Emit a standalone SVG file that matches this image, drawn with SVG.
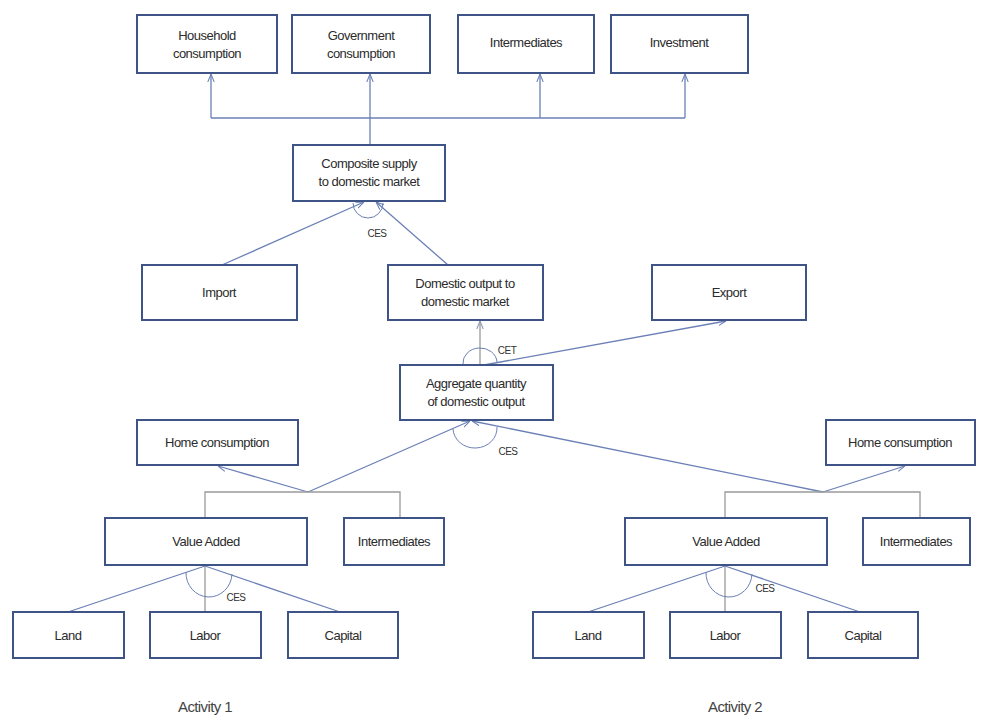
<svg xmlns="http://www.w3.org/2000/svg" width="981" height="720" viewBox="0 0 981 720">
<style>
.box{fill:#fff;stroke:#3e5486;stroke-width:2}
.t{font-family:"Liberation Sans",Arial,sans-serif;font-size:13px;fill:#2b2b2b;text-anchor:middle;letter-spacing:-0.5px}
.lbl{font-family:"Liberation Sans",Arial,sans-serif;font-size:10px;fill:#333;text-anchor:middle;letter-spacing:-0.5px}
.act{font-family:"Liberation Sans",Arial,sans-serif;font-size:15px;fill:#444;text-anchor:middle;letter-spacing:-0.6px}
.c{fill:none;stroke:#6b80b6;stroke-width:1.3}
.g{fill:none;stroke:#9a9a9a;stroke-width:1.3}
.arc{fill:none;stroke:#6b80b6;stroke-width:1}
</style>
<defs>
<marker id="ah" viewBox="0 0 10 10" refX="10" refY="5" markerWidth="8" markerHeight="8" orient="auto" markerUnits="userSpaceOnUse">
<path d="M0,1 L10,5 L0,9" fill="none" stroke="#6b80b6" stroke-width="1.3"/>
</marker>
<marker id="ahg" viewBox="0 0 10 10" refX="10" refY="5" markerWidth="8" markerHeight="8" orient="auto" markerUnits="userSpaceOnUse">
<path d="M0,1 L10,5 L0,9" fill="none" stroke="#8d96b0" stroke-width="1.3"/>
</marker>
</defs>
<rect width="981" height="720" fill="#fff"/>
<g id="connectors">
<line class="c" x1="211" y1="118" x2="685" y2="118"/>
<line class="c" x1="211" y1="118" x2="211" y2="74" marker-end="url(#ah)"/>
<line class="c" x1="370" y1="145" x2="370" y2="74" marker-end="url(#ah)"/>
<line class="c" x1="540" y1="118" x2="540" y2="74" marker-end="url(#ah)"/>
<line class="c" x1="685" y1="118" x2="685" y2="74" marker-end="url(#ah)"/>
<line class="c" x1="222" y1="265" x2="364" y2="202" marker-end="url(#ah)"/>
<line class="c" x1="448" y1="265" x2="376" y2="202" marker-end="url(#ah)"/>
<path class="arc" d="M353,203 A15,15 0 0 0 383,203"/>
<text class="lbl" x="377" y="237">CES</text>
<line class="g" x1="480" y1="365" x2="480" y2="321" marker-end="url(#ahg)"/>
<line class="c" x1="484" y1="365" x2="726" y2="321" marker-end="url(#ah)"/>
<path class="arc" d="M463,364 A17,15 0 0 1 497,362"/>
<text class="lbl" x="507" y="354">CET</text>
<line class="c" x1="308" y1="492" x2="470" y2="421" marker-end="url(#ah)"/>
<line class="c" x1="308" y1="492" x2="218" y2="466" marker-end="url(#ah)"/>
<line class="c" x1="823" y1="492" x2="472" y2="421" marker-end="url(#ah)"/>
<line class="c" x1="823" y1="492" x2="905" y2="466" marker-end="url(#ah)"/>
<path class="arc" d="M453,429 A22,20 0 0 0 497,427"/>
<text class="lbl" x="508" y="455">CES</text>
<polyline class="g" points="205,518 205,492 400,492 400,518"/>
<polyline class="g" points="725,518 725,492 920,492 920,518"/>
<line class="c" x1="205" y1="566" x2="68" y2="612"/>
<line class="g" x1="205" y1="566" x2="205" y2="612"/>
<line class="c" x1="205" y1="566" x2="340" y2="612"/>
<path class="arc" d="M186,572 A23,24 0 0 0 232,574"/>
<text class="lbl" x="236" y="601">CES</text>
<line class="c" x1="725" y1="566" x2="588" y2="612"/>
<line class="g" x1="725" y1="566" x2="725" y2="612"/>
<line class="c" x1="725" y1="566" x2="860" y2="612"/>
<path class="arc" d="M706,572 A23,24 0 0 0 752,574"/>
<text class="lbl" x="765" y="592">CES</text>
</g>
<g id="household"><rect class="box" x="137" y="15" width="140" height="58"/><text class="t" x="207" y="40">Household</text><text class="t" x="207" y="58">consumption</text></g>
<g id="government"><rect class="box" x="292" y="15" width="138" height="58"/><text class="t" x="361" y="40">Government</text><text class="t" x="361" y="58">consumption</text></g>
<g id="intermediates-top"><rect class="box" x="458" y="15" width="136" height="58"/><text class="t" x="526" y="47">Intermediates</text></g>
<g id="investment"><rect class="box" x="611" y="15" width="137" height="58"/><text class="t" x="679" y="47">Investment</text></g>
<g id="composite"><rect class="box" x="293" y="145" width="152" height="56"/><text class="t" x="369" y="168">Composite supply</text><text class="t" x="369" y="186">to domestic market</text></g>
<g id="import"><rect class="box" x="142" y="265" width="155" height="55"/><text class="t" x="219" y="297">Import</text></g>
<g id="domestic"><rect class="box" x="388" y="265" width="155" height="55"/><text class="t" x="465" y="288">Domestic output to</text><text class="t" x="465" y="306">domestic market</text></g>
<g id="export"><rect class="box" x="652" y="265" width="154" height="55"/><text class="t" x="729" y="297">Export</text></g>
<g id="aggregate"><rect class="box" x="400" y="365" width="153" height="55"/><text class="t" x="476" y="388">Aggregate quantity</text><text class="t" x="476" y="406">of domestic output</text></g>
<g id="home1"><rect class="box" x="137" y="420" width="161" height="45"/><text class="t" x="217" y="447">Home consumption</text></g>
<g id="va1"><rect class="box" x="105" y="518" width="202" height="47"/><text class="t" x="206" y="546">Value Added</text></g>
<g id="int1"><rect class="box" x="344" y="518" width="100" height="47"/><text class="t" x="394" y="546">Intermediates</text></g>
<g id="land1"><rect class="box" x="13" y="612" width="111" height="46"/><text class="t" x="68" y="640">Land</text></g>
<g id="labor1"><rect class="box" x="150" y="612" width="111" height="46"/><text class="t" x="205" y="640">Labor</text></g>
<g id="capital1"><rect class="box" x="288" y="612" width="110" height="46"/><text class="t" x="343" y="640">Capital</text></g>
<g id="home2"><rect class="box" x="826" y="420" width="149" height="45"/><text class="t" x="900" y="447">Home consumption</text></g>
<g id="va2"><rect class="box" x="625" y="518" width="202" height="47"/><text class="t" x="726" y="546">Value Added</text></g>
<g id="int2"><rect class="box" x="863" y="518" width="107" height="47"/><text class="t" x="916" y="546">Intermediates</text></g>
<g id="land2"><rect class="box" x="533" y="612" width="111" height="46"/><text class="t" x="588" y="640">Land</text></g>
<g id="labor2"><rect class="box" x="670" y="612" width="111" height="46"/><text class="t" x="725" y="640">Labor</text></g>
<g id="capital2"><rect class="box" x="808" y="612" width="110" height="46"/><text class="t" x="863" y="640">Capital</text></g>
<text class="act" x="205" y="712">Activity 1</text>
<text class="act" x="735" y="712">Activity 2</text>
</svg>
